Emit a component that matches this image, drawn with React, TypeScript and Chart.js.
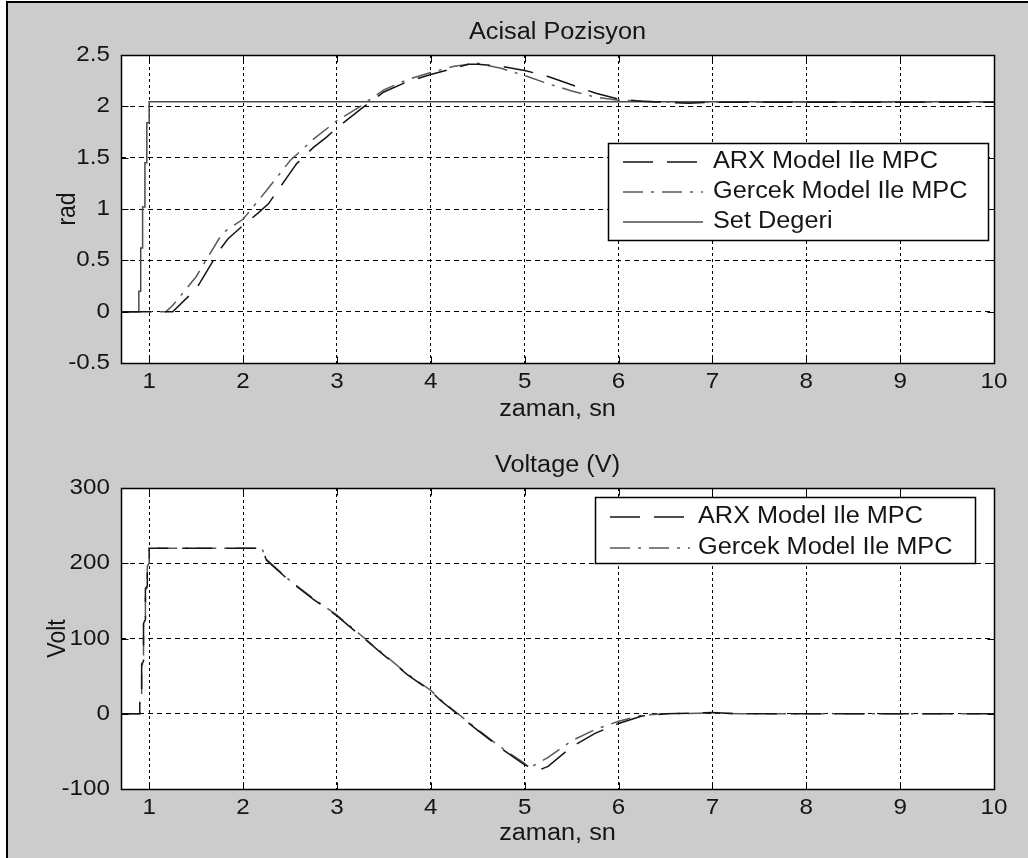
import React, { useEffect, useRef } from "react";
import { Chart, registerables } from "chart.js";

Chart.register(...registerables);

const FONT = "'Liberation Sans', Arial, sans-serif";
const TICK_SIZE = 22;
const TEXT_SIZE = 23;
const STRETCH = 1.1;

// ---- tick values ----
const xTicks = [1, 2, 3, 4, 5, 6, 7, 8, 9, 10];
const posTicks = [-0.5, 0, 0.5, 1, 1.5, 2, 2.5];
const voltTicks = [-100, 0, 100, 200, 300];

// ---- Acisal Pozisyon (rad) ----
const posArxX = [0.7, 1.25, 1.5, 1.75, 1.84, 2.0, 2.16, 2.27, 2.5, 2.57, 2.75, 2.89, 3.0, 3.25, 3.5, 3.75, 4.0, 4.25, 4.4, 4.5, 4.75, 5.0, 5.25, 5.5, 5.75, 6.0, 6.25, 6.5, 6.75, 7.0, 8.0, 9.0, 10.0];
const posArxY = [0, 0, 0.22, 0.6, 0.71, 0.84, 0.96, 1.05, 1.35, 1.44, 1.6, 1.7, 1.79, 1.97, 2.14, 2.24, 2.31, 2.37, 2.41, 2.41, 2.39, 2.35, 2.29, 2.21, 2.13, 2.07, 2.05, 2.04, 2.03, 2.04, 2.04, 2.04, 2.04];

const posGercekX = [0.7, 1.18, 1.25, 1.5, 1.75, 1.82, 2.0, 2.25, 2.5, 2.75, 3.0, 3.25, 3.5, 3.75, 4.0, 4.25, 4.5, 4.75, 5.0, 5.25, 5.5, 5.75, 6.0, 6.25, 6.5, 7.0, 8.0, 9.0, 10.0];
const posGercekY = [0, 0, 0.06, 0.34, 0.72, 0.79, 0.9, 1.18, 1.47, 1.68, 1.86, 2.0, 2.16, 2.26, 2.33, 2.39, 2.42, 2.37, 2.3, 2.22, 2.15, 2.09, 2.06, 2.05, 2.04, 2.04, 2.04, 2.04, 2.04];

const posSetX = [0.7, 0.89, 0.89, 0.91, 0.91, 0.93, 0.93, 0.955, 0.955, 0.975, 0.975, 1.0, 1.0, 10.0];
const posSetY = [0, 0, 0.2, 0.2, 0.62, 0.62, 1.02, 1.02, 1.45, 1.45, 1.84, 1.84, 2.045, 2.045];

// ---- Voltage (V) ----
const voltArxX = [0.7, 0.9, 0.9, 0.92, 0.92, 0.94, 0.94, 0.96, 0.96, 0.98, 0.98, 1.0, 1.0, 2.2, 2.25, 2.5, 2.75, 3.0, 3.25, 3.5, 3.75, 4.0, 4.1, 4.25, 4.5, 4.75, 5.0, 5.15, 5.25, 5.5, 5.75, 6.0, 6.25, 6.5, 7.0, 7.3, 8.0, 9.0, 10.0];
const voltArxY = [0, 0, 18, 22, 66, 70, 120, 125, 166, 170, 198, 202, 220, 220, 204, 176, 152, 130, 104, 78, 52, 30, 18, 3, -22, -46, -68, -75, -70, -44, -26, -13, -3, 0, 1.5, 0, 0, 0, 0];

const voltGercekX = [0.7, 0.9, 0.9, 0.92, 0.92, 0.94, 0.94, 0.96, 0.96, 0.98, 0.98, 1.0, 1.0, 2.2, 2.25, 2.5, 2.75, 3.0, 3.25, 3.5, 3.75, 4.0, 4.1, 4.25, 4.5, 4.75, 5.0, 5.05, 5.25, 5.5, 5.75, 6.0, 6.25, 6.5, 7.0, 7.3, 8.0, 9.0, 10.0];
const voltGercekY = [0, 0, 15, 20, 64, 68, 118, 122, 164, 168, 196, 200, 220, 220, 205, 177, 153, 131, 105, 79, 53, 31, 19, 4, -21, -45, -66, -72, -58, -36, -21, -10, -2, 0, 1, 0, 0, 0, 0];

const ARX_LABEL = "ARX Model Ile MPC";
const GERCEK_LABEL = "Gercek Model Ile MPC";
const SET_LABEL = "Set Degeri";

const pts = (xs: number[], ys: number[]) => xs.map((x, i) => ({ x, y: ys[i] }));

const arxStyle = { borderColor: "#151515", borderWidth: 1.5, borderDash: [30, 14] };
const gercekStyle = { borderColor: "#5a5a5a", borderWidth: 1.5, borderDash: [20, 8, 3, 8] };
const setStyle = { borderColor: "#4a4a4a", borderWidth: 1.5, borderDash: [] as number[] };

// widen glyphs horizontally (the reference text is slightly stretched)
const textStretch = {
  id: "textStretch",
  beforeInit(chart: any) {
    const ctx = chart.ctx;
    const orig = ctx.fillText;
    ctx.fillText = function (text: string, x: number, y: number) {
      const m = this.getTransform();
      this.save();
      this.translate(x, y);
      if (Math.abs(m.b) > 1e-6) this.scale(1, STRETCH);
      else this.scale(STRETCH, 1);
      orig.call(this, text, 0, 0);
      this.restore();
    };
  },
};

const plotBg = {
  id: "plotBg",
  beforeDraw(chart: any) {
    const { ctx, chartArea: a } = chart;
    ctx.save();
    ctx.fillStyle = "#ffffff";
    ctx.fillRect(a.left, a.top, a.right - a.left, a.bottom - a.top);
    ctx.restore();
  },
};

const axesFrame = {
  id: "axesFrame",
  afterDatasetsDraw(chart: any) {
    const { ctx, chartArea: a, scales } = chart;
    const L = Math.round(a.left) + 0.5;
    const R = Math.round(a.right) + 0.5;
    const T = Math.round(a.top) + 0.5;
    const B = Math.round(a.bottom) + 0.5;
    const tl = 7;
    ctx.save();
    ctx.setLineDash([]);
    ctx.strokeStyle = "#000";
    ctx.lineWidth = 1;
    ctx.beginPath();
    scales.x.ticks.forEach((t: any) => {
      const px = Math.round(scales.x.getPixelForValue(t.value)) + 0.5;
      ctx.moveTo(px, B);
      ctx.lineTo(px, B - tl);
      ctx.moveTo(px, T);
      ctx.lineTo(px, T + tl);
    });
    scales.y.ticks.forEach((t: any) => {
      const py = Math.round(scales.y.getPixelForValue(t.value)) + 0.5;
      ctx.moveTo(L, py);
      ctx.lineTo(L + tl, py);
      ctx.moveTo(R, py);
      ctx.lineTo(R - tl, py);
    });
    ctx.stroke();
    ctx.lineWidth = 1.5;
    ctx.strokeRect(L, T, R - L, B - T);
    ctx.restore();
  },
};

const boxLegend = {
  id: "boxLegend",
  afterDraw(chart: any, _args: any, o: any) {
    const { ctx } = chart;
    ctx.save();
    ctx.fillStyle = "#ffffff";
    ctx.fillRect(o.left, o.top, o.right - o.left, o.bottom - o.top);
    ctx.strokeStyle = "#000";
    ctx.lineWidth = 1.5;
    ctx.setLineDash([]);
    ctx.strokeRect(o.left + 0.5, o.top + 0.5, o.right - o.left, o.bottom - o.top);
    chart.data.datasets.forEach((ds: any, i: number) => {
      const y = o.rows[i];
      ctx.setLineDash(ds.borderDash || []);
      ctx.strokeStyle = ds.borderColor;
      ctx.lineWidth = ds.borderWidth;
      ctx.beginPath();
      ctx.moveTo(o.lineX0, y);
      ctx.lineTo(o.lineX1, y);
      ctx.stroke();
      ctx.setLineDash([]);
      ctx.fillStyle = "#151515";
      ctx.font = `${TEXT_SIZE}px ${FONT}`;
      ctx.textBaseline = "middle";
      ctx.textAlign = "left";
      ctx.fillText(ds.label, o.textX, y);
    });
    ctx.restore();
  },
};

function makeOptions(p: {
  yMin: number;
  yMax: number;
  yTicks: number[];
  title: string;
  titlePad: { top: number; bottom: number };
  yTitle: string;
  yTitlePad: number;
  xAxisHeight: number;
  xTitlePadBottom: number;
  legend: any;
}) {
  return {
    responsive: false,
    animation: false as const,
    layout: { padding: { left: 0, right: 34, top: 0, bottom: 0 } },
    elements: { point: { radius: 0 }, line: { tension: 0 } },
    plugins: {
      legend: { display: false },
      tooltip: { enabled: false },
      title: {
        display: true,
        text: p.title,
        fullSize: false,
        color: "#151515",
        font: { family: FONT, size: TEXT_SIZE, weight: "normal" as const },
        padding: p.titlePad,
      },
      boxLegend: p.legend,
    },
    scales: {
      x: {
        type: "linear" as const,
        min: 0.7,
        max: 10,
        afterBuildTicks: (s: any) => {
          s.ticks = xTicks.map((v) => ({ value: v }));
        },
        afterFit: (s: any) => {
          s.height = p.xAxisHeight;
        },
        ticks: {
          autoSkip: false,
          maxRotation: 0,
          padding: 5.8,
          color: "#151515",
          font: { family: FONT, size: TICK_SIZE },
          callback: (v: any) => String(v),
        },
        grid: { color: "#000", lineWidth: 1, drawTicks: false },
        border: { display: false, dash: [3, 3] },
        title: {
          display: true,
          text: "zaman, sn",
          color: "#151515",
          font: { family: FONT, size: TEXT_SIZE },
          padding: { top: 0, bottom: p.xTitlePadBottom },
        },
      },
      y: {
        type: "linear" as const,
        min: p.yMin,
        max: p.yMax,
        afterBuildTicks: (s: any) => {
          s.ticks = p.yTicks.map((v) => ({ value: v }));
        },
        afterFit: (s: any) => {
          s.width = 121;
        },
        ticks: {
          padding: 11,
          color: "#151515",
          font: { family: FONT, size: TICK_SIZE },
          callback: (v: any) => String(v),
        },
        grid: { color: "#000", lineWidth: 1, drawTicks: false },
        border: { display: false, dash: [5, 4] },
        title: {
          display: true,
          text: p.yTitle,
          color: "#151515",
          font: { family: FONT, size: TEXT_SIZE },
          padding: { top: p.yTitlePad, bottom: 0 },
        },
      },
    },
  };
}

function PlotCanvas({ config, top }: { config: any; top: number }) {
  const ref = useRef<HTMLCanvasElement | null>(null);
  useEffect(() => {
    if (!ref.current) return;
    const chart = new Chart(ref.current, config);
    return () => chart.destroy();
  }, [config]);
  return (
    <canvas
      ref={ref}
      width={1028}
      height={429}
      style={{ position: "absolute", left: 0, top, width: 1028, height: 429 }}
    />
  );
}

const topConfig = {
  type: "line",
  data: {
    datasets: [
      { label: ARX_LABEL, data: pts(posArxX, posArxY), ...arxStyle },
      { label: GERCEK_LABEL, data: pts(posGercekX, posGercekY), ...gercekStyle },
      { label: SET_LABEL, data: pts(posSetX, posSetY), ...setStyle },
    ],
  },
  options: makeOptions({
    yMin: -0.5,
    yMax: 2.5,
    yTicks: posTicks,
    title: "Acisal Pozisyon",
    titlePad: { top: 19.2, bottom: 8.2 },
    yTitle: "rad",
    yTitlePad: 54,
    xAxisHeight: 66,
    xTitlePadBottom: 5.2,
    legend: { left: 608, right: 988, top: 143, bottom: 240, rows: [162, 192, 222], lineX0: 623, lineX1: 703, textX: 713 },
  }),
  plugins: [textStretch, plotBg, axesFrame, boxLegend],
};

const bottomConfig = {
  type: "line",
  data: {
    datasets: [
      { label: ARX_LABEL, data: pts(voltArxX, voltArxY), ...arxStyle },
      { label: GERCEK_LABEL, data: pts(voltGercekX, voltGercekY), ...gercekStyle },
    ],
  },
  options: makeOptions({
    yMin: -100,
    yMax: 300,
    yTicks: voltTicks,
    title: "Voltage (V)",
    titlePad: { top: 23.2, bottom: 8.2 },
    yTitle: "Volt",
    yTitlePad: 44,
    xAxisHeight: 69,
    xTitlePadBottom: 10.2,
    legend: { left: 595, right: 975, top: 68, bottom: 134, rows: [88, 119], lineX0: 610, lineX1: 690, textX: 698 },
  }),
  plugins: [textStretch, plotBg, axesFrame, boxLegend],
};

export default function App() {
  return (
    <div style={{ position: "fixed", left: 0, top: 0, width: 1028, height: 858, background: "#ffffff", overflow: "hidden" }}>
      <div
        style={{
          position: "absolute",
          left: 6,
          top: 1,
          right: 0,
          bottom: 0,
          background: "#cccccc",
          borderLeft: "2px solid #000",
          borderTop: "2px solid #000",
          boxSizing: "border-box",
        }}
      />
      <PlotCanvas config={topConfig} top={0} />
      <PlotCanvas config={bottomConfig} top={429} />
    </div>
  );
}
